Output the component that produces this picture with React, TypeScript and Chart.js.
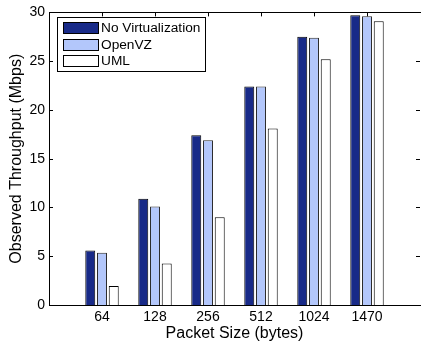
import React, { useEffect, useRef } from "react";
import { Chart, registerables } from "chart.js";

Chart.register(...registerables);

const categories = ["64", "128", "256", "512", "1024", "1470"];
const noVirtualization = [5.6, 10.9, 17.4, 22.4, 27.5, 29.7];
const openVZ = [5.35, 10.1, 16.9, 22.4, 27.4, 29.6];
const uml = [1.95, 4.25, 9.0, 18.1, 25.2, 29.1];
const seriesNames = ["No Virtualization", "OpenVZ", "UML"];
const yTicks = [0, 5, 10, 15, 20, 25, 30];

const FONT = "'Liberation Sans', Arial, sans-serif";
const COLORS = ["#182a88", "#b3c7fb", "#ffffff"];
const BORDERS = ["#000000", "#2a2a2a", "#000000"];

const pad = (arr: number[]) => [null, ...arr, null];

const framePlugin = {
  id: "matlabFrame",
  beforeDatasetsDraw(chart: any) {
    const { ctx, chartArea } = chart;
    const { left, right, top, bottom } = chartArea;
    const xs = chart.scales.x;
    const ys = chart.scales.y;
    ctx.save();
    ctx.strokeStyle = "#000";
    ctx.lineWidth = 1;
    ctx.beginPath();
    yTicks.forEach((v) => {
      const y = Math.round(ys.getPixelForValue(v)) + 0.5;
      ctx.moveTo(left, y);
      ctx.lineTo(left + 4, y);
      ctx.moveTo(right, y);
      ctx.lineTo(right - 4, y);
    });
    categories.forEach((_, i) => {
      const x = Math.round(xs.getPixelForValue(i + 1)) + 0.5;
      ctx.moveTo(x, top);
      ctx.lineTo(x, top + 4);
      ctx.moveTo(x, bottom);
      ctx.lineTo(x, bottom - 4);
    });
    ctx.stroke();
    ctx.restore();
  },
  afterDatasetsDraw(chart: any) {
    const { ctx, chartArea } = chart;
    const { left, right, top, bottom } = chartArea;
    const l = Math.round(left) + 0.5;
    const t = Math.round(top) + 0.5;
    const b = Math.round(bottom) + 0.5;
    ctx.save();
    ctx.strokeStyle = "#000";
    ctx.lineWidth = 1;
    ctx.beginPath();
    ctx.moveTo(right + 2, t);
    ctx.lineTo(l, t);
    ctx.lineTo(l, b);
    ctx.lineTo(right + 2, b);
    ctx.stroke();
    ctx.restore();
  },
  afterDraw(chart: any) {
    const { ctx } = chart;
    ctx.save();
    const bx = 57, by = 17, bw = 148, bh = 54;
    ctx.fillStyle = "#fff";
    ctx.fillRect(bx, by, bw, bh);
    ctx.strokeStyle = "#000";
    ctx.lineWidth = 1;
    ctx.strokeRect(bx + 0.5, by + 0.5, bw, bh);
    seriesNames.forEach((name, i) => {
      const sy = 22 + i * 16.5;
      ctx.fillStyle = COLORS[i];
      ctx.fillRect(63.5, Math.round(sy) + 0.5, 35, 11);
      ctx.strokeStyle = "#000";
      ctx.strokeRect(63.5, Math.round(sy) + 0.5, 35, 11);
      ctx.fillStyle = "#000";
      ctx.font = `13.7px ${FONT}`;
      ctx.textBaseline = "middle";
      ctx.textAlign = "left";
      ctx.fillText(name, 101, Math.round(sy) + 6.5);
    });
    ctx.restore();
  },
};

export default function App() {
  const ref = useRef<HTMLCanvasElement | null>(null);
  useEffect(() => {
    if (!ref.current) return;
    Chart.defaults.font.family = FONT;
    Chart.defaults.color = "#000";
    const chart = new Chart(ref.current, {
      type: "bar",
      data: {
        labels: ["", ...categories, ""],
        datasets: [
          { label: seriesNames[0], data: pad(noVirtualization), backgroundColor: COLORS[0], borderColor: BORDERS[0], borderWidth: 1 },
          { label: seriesNames[1], data: pad(openVZ), backgroundColor: COLORS[1], borderColor: BORDERS[1], borderWidth: 1 },
          { label: seriesNames[2], data: pad(uml), backgroundColor: COLORS[2], borderColor: BORDERS[2], borderWidth: 1 },
        ] as any,
      },
      options: {
        animation: false,
        responsive: false,
        maintainAspectRatio: false,
        layout: { padding: { top: 11, right: 2.5, left: 0, bottom: 0 } },
        datasets: { bar: { categoryPercentage: 0.664, barPercentage: 0.85 } } as any,
        plugins: { legend: { display: false }, tooltip: { enabled: false } },
        scales: {
          x: {
            type: "category",
            offset: false,
            grid: { display: false, drawTicks: false },
            border: { display: false },
            ticks: { autoSkip: false, maxRotation: 0, padding: 4, font: { size: 14, family: FONT }, color: "#000" },
            title: { display: true, text: "Packet Size (bytes)", font: { size: 16, family: FONT }, color: "#000", padding: { top: 0, bottom: 2 } },
            afterFit: (s: any) => { s.height = 40; },
          },
          y: {
            min: 0,
            max: 30,
            grid: { display: false, drawTicks: false },
            border: { display: false },
            ticks: { stepSize: 5, padding: 4, font: { size: 14, family: FONT }, color: "#000" },
            title: { display: true, text: "Observed Throughput (Mbps)", font: { size: 16, family: FONT }, color: "#000", padding: { top: 7, bottom: 0 } },
            afterFit: (s: any) => { s.width = 49; },
          },
        },
      },
      plugins: [framePlugin],
    });
    return () => chart.destroy();
  }, []);
  return (
    <div style={{ position: "fixed", left: 0, top: 0, width: 421, height: 345, overflow: "hidden", background: "#fff" }}>
      <canvas ref={ref} width={424} height={345} style={{ display: "block", width: 424, height: 345 }} />
    </div>
  );
}
